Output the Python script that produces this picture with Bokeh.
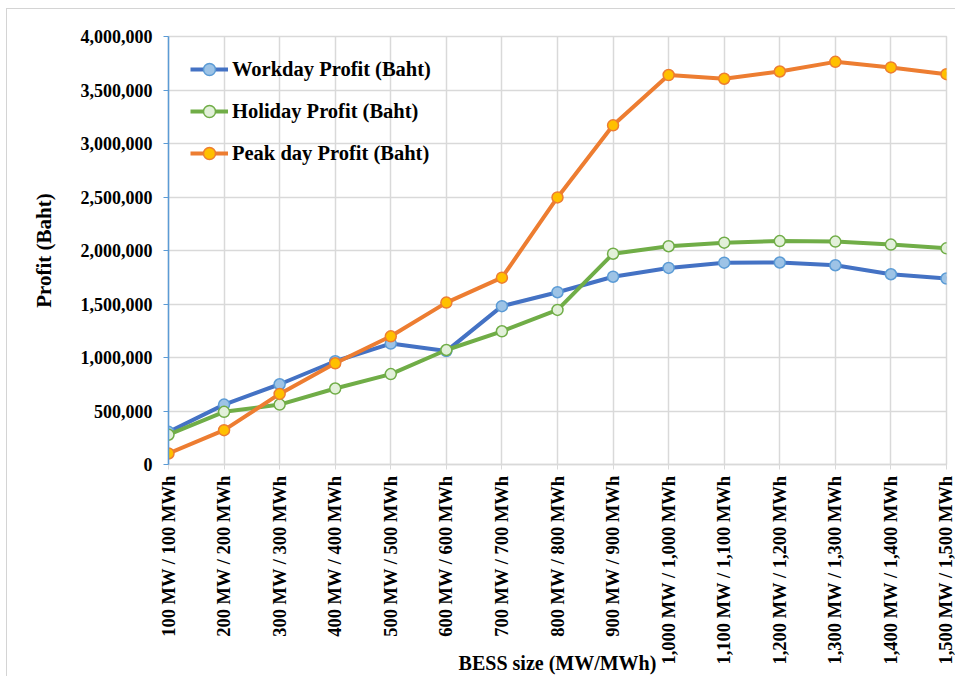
import math
from bokeh.plotting import figure
from bokeh.models import (Range1d, FixedTicker, NumeralTickFormatter, Legend, LegendItem,
                          ColumnDataSource)
from bokeh.embed import file_html
from bokeh.resources import INLINE

categories = ["100 MW / 100 MWh", "200 MW / 200 MWh", "300 MW / 300 MWh", "400 MW / 400 MWh",
              "500 MW / 500 MWh", "600 MW / 600 MWh", "700 MW / 700 MWh", "800 MW / 800 MWh",
              "900 MW / 900 MWh", "1,000 MW / 1,000 MWh", "1,100 MW / 1,100 MWh",
              "1,200 MW / 1,200 MWh", "1,300 MW / 1,300 MWh", "1,400 MW / 1,400 MWh",
              "1,500 MW / 1,500 MWh"]
workday = [305000, 560000, 750000, 965000, 1130000, 1060000, 1480000, 1610000, 1755000,
           1837000, 1886000, 1888000, 1862000, 1778000, 1738000]
holiday = [278000, 492000, 560000, 710000, 845000, 1070000, 1245000, 1445000, 1970000,
           2040000, 2073000, 2088000, 2083000, 2055000, 2020000]
peakday = [103000, 321000, 660000, 946000, 1198000, 1513000, 1746000, 2496000, 3170000,
           3640000, 3605000, 3673000, 3763000, 3711000, 3648000]
y_ticks = [0, 500000, 1000000, 1500000, 2000000, 2500000, 3000000, 3500000, 4000000]

xs = list(range(len(categories)))
FONT = "Liberation Serif"
TXT = "#000000"

p = figure(frame_width=778, frame_height=428, output_backend="svg", toolbar_location=None,
           x_range=Range1d(0, len(categories) - 1), y_range=Range1d(0, 4000000),
           min_border_left=161, min_border_right=9, min_border_top=27, min_border_bottom=10)
p.styles = {"margin-left": "6px", "margin-top": "8px",
            "border-left": "1px solid #D4D4D4", "border-top": "1px solid #D4D4D4"}
p.outline_line_color = "#D9D9D9"
p.outline_line_width = 1.5
p.background_fill_color = "white"
p.border_fill_color = "white"

# axes
p.xaxis.ticker = FixedTicker(ticks=xs)
p.xaxis.major_label_overrides = {i: c for i, c in enumerate(categories)}
p.xaxis.major_label_orientation = math.pi / 2
p.xaxis.axis_line_color = "#D9D9D9"
p.xaxis.axis_line_width = 1.5
p.xaxis.major_tick_line_color = "#D9D9D9"
p.xaxis.major_tick_out = 5
p.xaxis.major_tick_in = 0
p.xaxis.minor_tick_line_color = None
p.xaxis.major_label_standoff = 6
p.xaxis.major_label_text_font = FONT
p.xaxis.major_label_text_font_style = "bold"
p.xaxis.major_label_text_font_size = "18.5px"
p.xaxis.major_label_text_color = TXT
p.xaxis.axis_label = "BESS size (MW/MWh)"
p.xaxis.axis_label_text_font = FONT
p.xaxis.axis_label_text_font_style = "bold"
p.xaxis.axis_label_text_font_size = "20px"
p.xaxis.axis_label_text_color = TXT
p.xaxis.axis_label_standoff = -16

p.yaxis.ticker = FixedTicker(ticks=y_ticks)
p.yaxis.formatter = NumeralTickFormatter(format="0,0")
p.yaxis.axis_line_color = "#5B9BD5"
p.yaxis.axis_line_width = 1.5
p.yaxis.major_tick_line_color = "#5B9BD5"
p.yaxis.major_tick_out = 5
p.yaxis.major_tick_in = 0
p.yaxis.minor_tick_line_color = None
p.yaxis.major_label_standoff = 11
p.yaxis.major_label_text_font = FONT
p.yaxis.major_label_text_font_style = "bold"
p.yaxis.major_label_text_font_size = "18px"
p.yaxis.major_label_text_color = TXT
p.yaxis.axis_label = "Profit (Baht)"
p.yaxis.axis_label_text_font = FONT
p.yaxis.axis_label_text_font_style = "bold"
p.yaxis.axis_label_text_font_size = "21px"
p.yaxis.axis_label_text_color = TXT
p.yaxis.axis_label_standoff = 22

p.xgrid.ticker = FixedTicker(ticks=xs)
p.grid.grid_line_color = "#D9D9D9"
p.grid.grid_line_width = 1.5

src = ColumnDataSource(dict(x=xs, w=workday, h=holiday, pk=peakday))

series = [
    ("Workday Profit (Baht)", "w", "#4472C4", "#9DC3E6", "#5B9BD5"),
    ("Holiday Profit (Baht)", "h", "#70AD47", "#E2F0D9", "#70AD47"),
    ("Peak day Profit (Baht)", "pk", "#ED7D31", "#FFC000", "#ED7D31"),
]
items = []
for name, col, lc, mfill, mline in series:
    l = p.line("x", col, source=src, line_color=lc, line_width=4)
    s = p.scatter("x", col, source=src, size=11, fill_color=mfill, line_color=mline, line_width=1.5)
    items.append(LegendItem(label=name, renderers=[l, s]))

legend = Legend(items=items, location=(22, 296), padding=0, margin=0, spacing=12,
                glyph_width=38, glyph_height=30, label_height=30, label_standoff=4,
                label_text_font=FONT, label_text_font_style="bold", label_text_font_size="20.5px",
                label_text_color=TXT, background_fill_alpha=0, border_line_color=None)
p.add_layout(legend, "center")

open("out.html", "w").write(file_html(p, INLINE))
